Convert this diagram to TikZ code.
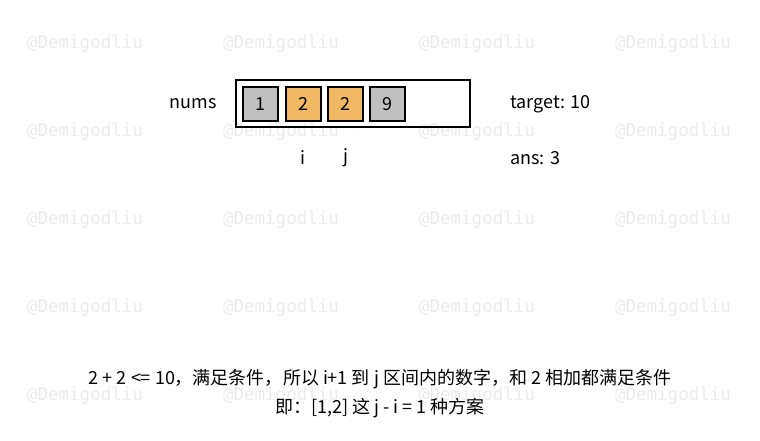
\documentclass[tikz,border=0pt]{standalone}
\usepackage{fontspec}
\setmainfont{Noto Sans CJK SC}
\newfontfamily\wmfont{DejaVu Sans Mono}
\definecolor{cellgray}{HTML}{C0C0C0}
\definecolor{cellorange}{HTML}{F0B862}
\definecolor{wmgray}{HTML}{EBEBEB}
\tikzset{
  wm/.style={text=wmgray, font=\wmfont\fontsize{17.5}{20}\selectfont, inner sep=0pt},
  lbl/.style={font=\fontsize{18}{21}\selectfont, inner sep=0pt},
  cell/.style={draw=black, line width=2pt, minimum width=35pt, minimum height=34pt, inner sep=0pt, font=\fontsize{18}{21}\selectfont},
  graycell/.style={cell, fill=cellgray},
  orangecell/.style={cell, fill=cellorange},
  frame/.style={draw=black, line width=2pt, minimum width=234pt, minimum height=47pt, inner sep=0pt}
}
\begin{document}
\begin{tikzpicture}[x=1pt,y=-1pt]
\useasboundingbox (0,0) rectangle (760,440);
\foreach \cx in {85,281,477,673}{
  \foreach \cy in {44,132,220,308,396}{
    \node[wm] (w-\cx-\cy) at (\cx,\cy) {@Demigodliu};
  }
}
\node[frame] (arr) at (353,103.5) {};
\node[graycell] (c1) at (260.5,104) {1};
\node[orangecell] (c2) at (303.5,104) {2};
\node[orangecell] (c3) at (345,104) {2};
\node[graycell] (c4) at (387,104) {9};
\node[lbl] (nums) at (193,104) {nums};
\node[lbl, anchor=west] (target) at (510,104) {target: 10};
\node[lbl] (i) at (303,158) {i};
\node[lbl] (j) at (346,158) {j};
\node[lbl, anchor=west] (ans) at (510,158) {ans: 3};
\node[lbl] (line1) at (380,379) {2 + 2 <= 10，满足条件，所以 i+1 到 j 区间内的数字，和 2 相加都满足条件};
\node[lbl] (line2) at (380,408) {即：[1,2] 这 j - i = 1 种方案};
\end{tikzpicture}
\end{document}
